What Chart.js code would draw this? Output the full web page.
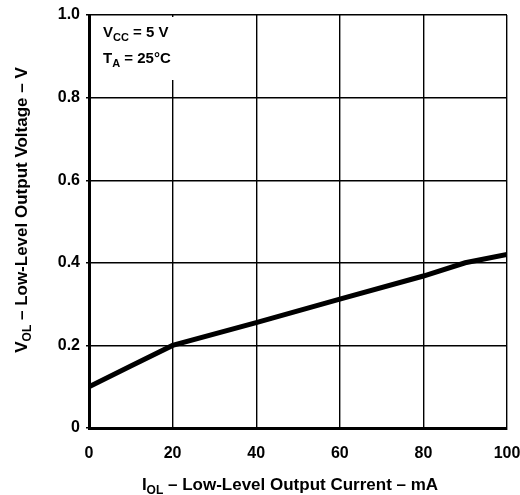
<!DOCTYPE html>
<html>
<head>
<meta charset="utf-8">
<script src="https://cdn.jsdelivr.net/npm/chart.js@4/dist/chart.umd.min.js"></script>
<style>
  html, body { margin: 0; padding: 0; background: #fff; }
  #wrap { width: 520px; height: 495px; }
</style>
</head>
<body>
<div id="wrap"><canvas id="c" width="520" height="495"></canvas></div>
<script>
// Low-level output voltage vs. low-level output current
const currentMA = [0, 10, 20, 40, 60, 80, 90, 100];
const voltageV  = [0.10, 0.15, 0.20, 0.255, 0.312, 0.368, 0.40, 0.42];

const xTicks = [0, 20, 40, 60, 80, 100];
const yTicks = [0, 0.2, 0.4, 0.6, 0.8, 1.0];

const FONT = '"Liberation Sans", Arial, Helvetica, sans-serif';

// draws text made of [text, isSubscript] runs, starting at x
function drawRuns(ctx, runs, x, y, size, subSize, subDrop) {
  let cx = x;
  for (const [t, sub] of runs) {
    ctx.font = 'bold ' + (sub ? subSize : size) + 'px ' + FONT;
    ctx.fillText(t, cx, sub ? y + subDrop : y);
    cx += ctx.measureText(t).width;
  }
  return cx - x;
}
function runsWidth(ctx, runs, size, subSize) {
  let w = 0;
  for (const [t, sub] of runs) {
    ctx.font = 'bold ' + (sub ? subSize : size) + 'px ' + FONT;
    w += ctx.measureText(t).width;
  }
  return w;
}

const decorations = {
  id: 'decorations',
  afterDraw(chart) {
    const ctx = chart.ctx;
    const a = chart.chartArea;
    ctx.save();
    ctx.textBaseline = 'alphabetic';
    ctx.textAlign = 'left';

    // conditions box in the upper-left corner of the plot
    ctx.fillStyle = '#fff';
    ctx.fillRect(a.left + 2, a.top + 2, 104, 63);
    ctx.fillStyle = '#000';
    drawRuns(ctx, [['V', false], ['CC', true], [' = 5 V', false]], a.left + 14, a.top + 22, 15, 11, 4);
    drawRuns(ctx, [['T', false], ['A', true], [' = 25°C', false]], a.left + 14, a.top + 48, 15, 11, 4);

    // x-axis title
    const xRuns = [['I', false], ['OL', true], [' – Low-Level Output Current – mA', false]];
    const xw = runsWidth(ctx, xRuns, 17, 12);
    drawRuns(ctx, xRuns, 290 - xw / 2, 490, 17, 12, 4);

    // y-axis title (rotated)
    const yRuns = [['V', false], ['OL', true], [' – Low-Level Output Voltage – V', false]];
    const yw = runsWidth(ctx, yRuns, 17, 12);
    ctx.translate(27, 210);
    ctx.rotate(-Math.PI / 2);
    drawRuns(ctx, yRuns, -yw / 2, 0, 17, 12, 4);
    ctx.restore();
  }
};

new Chart(document.getElementById('c'), {
  type: 'line',
  data: {
    datasets: [{
      data: currentMA.map((x, i) => ({ x: x, y: voltageV[i] })),
      borderColor: '#000',
      borderWidth: 5,
      pointRadius: 0,
      tension: 0,
      fill: false
    }]
  },
  options: {
    responsive: false,
    animation: false,
    layout: { padding: { top: 15, right: 13, left: 0, bottom: 0 } },
    plugins: { legend: { display: false }, tooltip: { enabled: false } },
    scales: {
      x: {
        type: 'linear',
        min: 0, max: 100,
        afterBuildTicks(s) { s.ticks = xTicks.map(v => ({ value: v })); },
        afterFit(s) { s.height = 67; s.paddingLeft = 0; s.paddingRight = 0; },
        border: { color: '#000', width: 3 },
        grid: { color: '#000', lineWidth: 1.4, drawTicks: false },
        ticks: {
          color: '#000', padding: 16, maxRotation: 0,
          font: { family: FONT, size: 16, weight: 'bold' },
          callback: v => String(v)
        }
      },
      y: {
        type: 'linear',
        min: 0, max: 1,
        afterBuildTicks(s) { s.ticks = yTicks.map(v => ({ value: v })); },
        afterFit(s) { s.width = 89; s.paddingTop = 0; s.paddingBottom = 0; },
        border: { color: '#000', width: 3 },
        grid: { color: '#000', lineWidth: 1.4, tickLength: 3 },
        ticks: {
          color: '#000', padding: 6,
          font: { family: FONT, size: 16, weight: 'bold' },
          callback: v => (v === 0 ? '0' : v.toFixed(1))
        }
      }
    }
  },
  plugins: [decorations]
});
</script>
</body>
</html>
